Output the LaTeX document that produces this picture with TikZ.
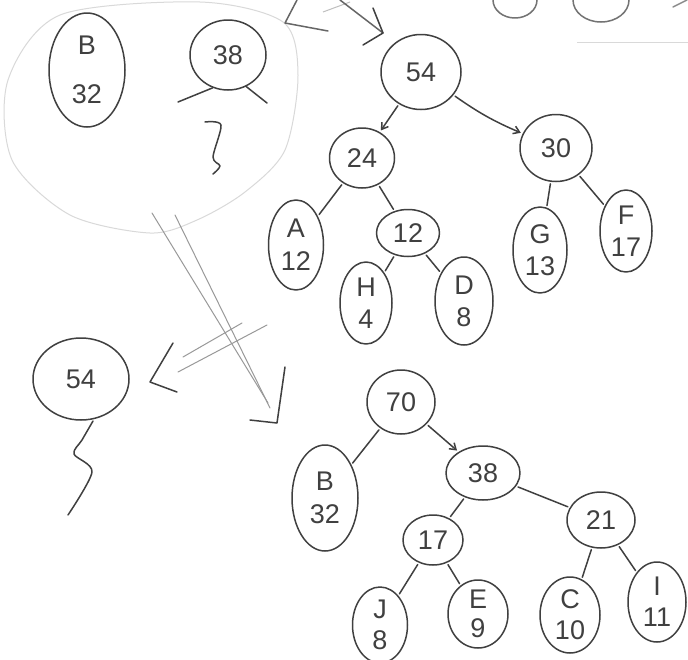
\documentclass[tikz,border=0pt]{standalone}
\usepackage{fontspec}
\setmainfont{Liberation Sans}
\usetikzlibrary{shapes.geometric,arrows.meta}
\begin{document}
\begin{tikzpicture}[x=1pt,y=-1pt,
  ink/.style={draw=black!75, line width=1.5pt, line cap=round, line join=round},
  pale/.style={draw=black!40, line width=1pt, line cap=round},
  faint/.style={draw=black!15, line width=1pt},
  nd/.style={ellipse, ink, inner sep=0pt, font=\fontsize{27}{31}\selectfont, text=black!75, align=center},
  edge/.style={ink, shorten <=2pt, shorten >=2pt},
  tip/.style={-{Straight Barb[length=6pt,width=8pt]}}
]
\useasboundingbox (0,0) rectangle (688,659);
\clip (0,0) rectangle (688,659);
\fill[white] (0,0) rectangle (688,659);

% faint enclosing blob
\draw[faint] plot[smooth cycle] coordinates {(8,80) (60,15) (200,2) (283,22) (298,75) (285,150) (245,192) (197,220) (150,233) (70,215) (12,160)};
\draw[faint] (577,42) -- (688,42);

% top partial nodes
\draw[ink, draw=black!55] (515,0) ellipse [x radius=22, y radius=18];
\draw[ink, draw=black!55] (601,0) ellipse [x radius=28, y radius=22];
\draw[ink, draw=black!45] (673,7) -- (687,0);

% inside blob
\node[nd, minimum width=76, minimum height=114] (B1) at (87,70) {B\\[18pt]32};
\node[nd, minimum width=76, minimum height=70] (T38) at (228,55) {38};
\coordinate (s1) at (178,102);
\coordinate (s2) at (267,103);
\draw[ink] (T38.245) -- (s1);
\draw[ink] (T38.300) -- (s2);
\draw[ink] plot[smooth] coordinates {(205,122) (221,125) (213,157) (220,166) (213,174)};

% top arrows
\draw[ink, draw=black!60] (297,0) -- (285,23) -- (328,31);
\draw[faint, draw=black!25] (323,12) -- (350,2);
\draw[ink, draw=black!60] (340,0) -- (383,33);
\draw[ink] (373,8) -- (383,33) -- (363,45);

% tree 54
\node[nd, minimum width=80, minimum height=75] (N54) at (421,72) {54};
\node[nd, minimum width=65, minimum height=60] (N24) at (362,158) {24};
\node[nd, minimum width=72, minimum height=67] (N30) at (556,148) {30};
\node[nd, minimum width=55, minimum height=90] (A) at (296,245) {A\\[2pt]12};
\node[nd, minimum width=63, minimum height=47] (N12) at (408,233) {12};
\node[nd, minimum width=52, minimum height=82] (H) at (366,303) {H\\[1pt]4};
\node[nd, minimum width=58, minimum height=88] (D) at (464,301) {D\\[1pt]8};
\node[nd, minimum width=54, minimum height=86] (G) at (540,250) {G\\[1pt]13};
\node[nd, minimum width=52, minimum height=82] (F) at (626,231) {F\\[1pt]17};
\draw[edge,tip] (N54) -- (N24);
\draw[edge,tip] (N54) to[bend right=6] (N30);
\draw[edge] (N24) -- (A);
\draw[edge] (N24) -- (N12);
\draw[edge] (N12) -- (H);
\draw[edge] (N12) -- (D);
\draw[edge] (N30) -- (G);
\draw[edge] (N30) -- (F);

% double arrows
\draw[pale] (152,213) -- (268,403);
\draw[pale] (175,215) -- (270,408);
\draw[ink] (285,367) -- (277,423) -- (250,420);
\draw[pale] (242,323) -- (183,357);
\draw[pale] (267,325) -- (178,372);
\draw[ink] (173,343) -- (150,382) -- (177,392);

% left 54
\node[nd, minimum width=96, minimum height=82] (N54L) at (81,379) {54};
\draw[ink] plot[smooth] coordinates {(93,421) (82,440) (74,454) (92,472) (68,515)};

% tree 70
\node[nd, minimum width=68, minimum height=64] (N70) at (401,402) {70};
\node[nd, minimum width=66, minimum height=106] (B2) at (325,498) {B\\[2pt]32};
\node[nd, minimum width=74, minimum height=54] (N38) at (483,473) {38};
\node[nd, minimum width=68, minimum height=56] (N21) at (601,520) {21};
\node[nd, minimum width=60, minimum height=50] (N17) at (433,540) {17};
\node[nd, minimum width=55, minimum height=76] (J) at (380,625) {J\\[0pt]8};
\node[nd, minimum width=60, minimum height=68] (E) at (478,614) {E\\[-2pt]9};
\node[nd, minimum width=60, minimum height=76] (C) at (570,615) {C\\[0pt]10};
\node[nd, minimum width=58, minimum height=80] (I) at (657,602) {I\\[0pt]11};
\draw[edge] (N70) -- (B2);
\draw[edge,tip] (N70) -- (N38);
\draw[edge] (N38) -- (N17);
\draw[edge] (N38) -- (N21);
\draw[edge] (N17) -- (J);
\draw[edge] (N17) -- (E);
\draw[edge] (N21) -- (C);
\draw[edge] (N21) -- (I);
\end{tikzpicture}
\end{document}
